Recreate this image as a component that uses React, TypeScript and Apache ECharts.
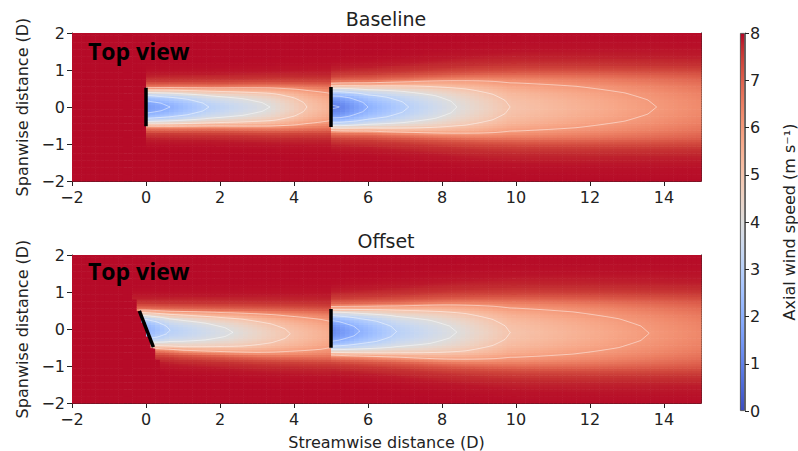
import React, { useEffect, useRef } from 'react';
import * as echarts from 'echarts';

// ---------------- data ----------------
const FREE_STREAM = 7.95; // m/s, undisturbed inflow

// centre-line axial speed of the wake (m/s) at streamwise stations (D)
const baselineCenterX = [0, 0.65, 1.7, 3.35, 4.35, 5, 5, 5.24, 6.0, 7.1, 8.4, 9.84, 13.8, 15];
const baselineCenterSpeed = [1.5, 2, 3, 4, 5, 5.5, 0.9, 1, 2, 3, 4, 5, 6, 6.3];
const offsetCenterX = [0, 0.65, 2.35, 3.9, 5, 5, 5.78, 6.77, 8.4, 9.84, 13.6, 15];
const offsetCenterSpeed = [2.0, 3, 4, 5, 5.6, 1.1, 2, 3, 4, 5, 6, 6.35];

// wake half-width (D) and lateral centre shift (D) at streamwise stations
const widthX = [0, 1, 2, 3, 4, 5, 5, 6, 7, 8, 9, 10, 12, 15];
const baselineWidth = [0.5, 0.52, 0.54, 0.57, 0.6, 0.63, 0.6, 0.64, 0.7, 0.77, 0.84, 0.9, 0.94, 0.98];
const baselineShift = [0, 0, 0, 0, 0, 0, 0, 0, 0, 0, 0, 0, 0, 0];
const offsetWidth = [0.5, 0.55, 0.58, 0.62, 0.65, 0.68, 0.62, 0.67, 0.73, 0.8, 0.86, 0.92, 0.96, 1.0];
const offsetShift = [0, -0.05, -0.08, -0.11, -0.13, -0.15, -0.05, -0.06, -0.07, -0.08, -0.09, -0.1, -0.11, -0.12];

// lateral wake shape: fraction of centre-line deficit vs distance / half-width
const profileR = [0, 0.2, 0.4, 0.6, 0.8, 0.9, 1.0, 1.1, 1.2, 1.4, 1.7, 2.0, 2.3];
const profileDeficit = [1, 0.97, 0.9, 0.78, 0.6, 0.48, 0.35, 0.24, 0.16, 0.07, 0.02, 0.005, 0];

// slope of the yawed rotor plane (x = slant * y)
const baselineSlant = 0;
const offsetSlant = -0.38;

const contourLevels = [1, 2, 3, 4, 5, 6];

// rotor discs, [[x1,y1],[x2,y2]] in D
const baselineTurbines = [[[0, -0.52], [0, 0.52]], [[5, -0.54], [5, 0.54]]];
const offsetTurbines = [[[-0.18, 0.49], [0.2, -0.49]], [[5, -0.51], [5, 0.54]]];

const colorbarTicks = [0, 1, 2, 3, 4, 5, 6, 7, 8];

const COOLWARM = [
  '#3b4cc0', '#445acc', '#4d68d7', '#5775e1', '#6282ea', '#6c8ef1', '#779af7', '#82a5fb',
  '#8db0fe', '#98b9ff', '#a3c2ff', '#aec9fd', '#b8d0f9', '#c2d5f4', '#ccd9ee', '#d5dbe6',
  '#dddddd', '#e5d8d1', '#ecd3c5', '#f1ccb9', '#f5c4ad', '#f7bba0', '#f7b194', '#f7a687',
  '#f49a7b', '#f18d6f', '#ec7f63', '#e57058', '#de604d', '#d55042', '#cb3e38', '#c0282f',
  '#b40426',
];

// ---------------- helpers ----------------
const X_MIN = -2, X_MAX = 15, Y_MIN = -2, Y_MAX = 2;
const DX = 0.125, DY = 0.0625;

function interp(xs: number[], vs: number[], x: number) {
  if (x <= xs[0]) return vs[0];
  if (x >= xs[xs.length - 1]) return vs[vs.length - 1];
  for (let i = xs.length - 2; i >= 0; i--) {
    if (x >= xs[i]) {
      const x0 = xs[i], x1 = xs[i + 1];
      if (x1 === x0) return vs[i + 1];
      return vs[i] + ((x - x0) / (x1 - x0)) * (vs[i + 1] - vs[i]);
    }
  }
  return vs[0];
}

function invProfile(q: number) {
  if (q >= 1) return 0;
  for (let i = 0; i < profileR.length - 1; i++) {
    const a = profileDeficit[i], b = profileDeficit[i + 1];
    if (q <= a && q >= b) {
      const t = a === b ? 0 : (a - q) / (a - b);
      return profileR[i] + t * (profileR[i + 1] - profileR[i]);
    }
  }
  return profileR[profileR.length - 1];
}

type Panel = { cx: number[]; cv: number[]; w: number[]; s: number[]; slant: number };

const baselinePanel: Panel = { cx: baselineCenterX, cv: baselineCenterSpeed, w: baselineWidth, s: baselineShift, slant: baselineSlant };
const offsetPanel: Panel = { cx: offsetCenterX, cv: offsetCenterSpeed, w: offsetWidth, s: offsetShift, slant: offsetSlant };

function params(p: Panel, x: number) {
  return { c: interp(p.cx, p.cv, x), w: interp(widthX, p.w, x), s: interp(widthX, p.s, x) };
}

function speedAt(p: Panel, x: number, y: number) {
  const x0 = p.slant * y;
  if (x < x0 || x < Math.min(0, x0)) return FREE_STREAM;
  const xe = Math.max(x, 0);
  const { c, w, s } = params(p, xe);
  const r = Math.abs(y - s) / w;
  const f = interp(profileR, profileDeficit, r);
  return FREE_STREAM - (FREE_STREAM - c) * f;
}

function buildCells(p: Panel) {
  const out: number[][] = [];
  const nx = Math.round((X_MAX - X_MIN) / DX);
  const ny = Math.round((Y_MAX - Y_MIN) / DY);
  for (let i = 0; i < nx; i++) {
    const x = X_MIN + i * DX;
    for (let j = 0; j < ny; j++) {
      const y = Y_MIN + j * DY;
      out.push([x, y, speedAt(p, x + DX / 2, y + DY / 2)]);
    }
  }
  return out;
}

function contourLines(p: Panel, level: number) {
  const lines: number[][][] = [];
  const segs = [[0, 5 - 1e-6], [5, 15]];
  const STEP = 0.025;
  for (const [a, b] of segs) {
    let upper: number[][] = [];
    let lower: number[][] = [];
    const n = Math.round((b - a) / STEP);
    for (let k = 0; k <= n; k++) {
      const x = Math.min(a + k * STEP, b);
      const { c, w, s } = params(p, x);
      if (c < level) {
        const r = invProfile((FREE_STREAM - level) / (FREE_STREAM - c));
        upper.push([x, s + w * r]);
        lower.push([x, s - w * r]);
      } else if (upper.length) {
        const last = upper[upper.length - 1][0];
        const cl = params(p, last).c;
        const xt = last + ((level - cl) / (c - cl)) * (x - last);
        const st = params(p, xt).s;
        lines.push([...upper, [xt, st], ...lower.slice().reverse()]);
        upper = [];
        lower = [];
      }
    }
    if (upper.length) lines.push(upper, lower);
  }
  if (p.slant === 0) return lines;
  // yawed rotor: contours begin on the slanted rotor plane
  return lines.map((line) => {
    const kept = line.filter((pt) => pt[0] >= p.slant * pt[1] - 1e-9);
    const first = kept[0];
    if (first && first[1] > 0 && first[0] <= 0.001) kept.unshift([p.slant * first[1], first[1]]);
    const last = kept[kept.length - 1];
    if (last && last[1] > 0 && last[0] <= 0.001 && kept.length > 1) kept.push([p.slant * last[1], last[1]]);
    return kept;
  }).filter((l) => l.length > 1);
}

const FONT = 'DejaVu Sans';
const INK = '#222';
const fmtMinus = (v: number) => String(v).replace('-', '\u2212');

function buildOption() {
  const axisLine = { show: true, onZero: false, lineStyle: { color: INK, width: 1 } };
  const tickText = { color: INK, fontSize: 16, fontFamily: FONT };

  const xAxes: any[] = [];
  const yAxes: any[] = [];
  [0, 1].forEach((g) => {
    xAxes.push({
      gridIndex: g, type: 'value', min: X_MIN, max: X_MAX, interval: 2, position: 'bottom',
      axisLine, axisTick: { show: true, length: 5, lineStyle: { color: INK } },
      axisLabel: { ...tickText, margin: 8, showMaxLabel: false, formatter: fmtMinus },
      splitLine: { show: false },
      ...(g === 1 ? { name: 'Streamwise distance (D)', nameLocation: 'middle', nameGap: 31, nameTextStyle: { ...tickText } } : {}),
    });
    xAxes.push({
      gridIndex: g, type: 'value', min: X_MIN, max: X_MAX, position: 'top',
      axisLine, axisTick: { show: false }, axisLabel: { show: false }, splitLine: { show: false },
    });
    yAxes.push({
      gridIndex: g, type: 'value', min: Y_MIN, max: Y_MAX, interval: 1, position: 'left',
      axisLine, axisTick: { show: true, length: 5, lineStyle: { color: INK } },
      axisLabel: { ...tickText, margin: 7, formatter: fmtMinus },
      splitLine: { show: false },
      name: 'Spanwise distance (D)', nameLocation: 'middle', nameGap: 40, nameRotate: 90,
      nameTextStyle: { ...tickText },
    });
    yAxes.push({
      gridIndex: g, type: 'value', min: Y_MIN, max: Y_MAX, position: 'right',
      axisLine, axisTick: { show: false }, axisLabel: { show: false }, splitLine: { show: false },
    });
  });
  xAxes.push({ gridIndex: 2, type: 'category', data: ['cb'], show: false });
  yAxes.push({
    gridIndex: 2, type: 'value', min: colorbarTicks[0], max: colorbarTicks[colorbarTicks.length - 1], interval: 1,
    position: 'right', axisLine: { show: true, onZero: false, lineStyle: { color: '#444', width: 0.8 } },
    axisTick: { show: true, length: 4, lineStyle: { color: INK } },
    axisLabel: { ...tickText, margin: 5 }, splitLine: { show: false },
    name: 'Axial wind speed (m s\u207B\u00B9)', nameLocation: 'middle', nameGap: 36, nameRotate: 90,
    nameTextStyle: { ...tickText },
  });

  const cellSeries = (p: Panel, g: number) => ({
    type: 'custom', xAxisIndex: g * 2, yAxisIndex: g * 2, clip: true, silent: true, z: 2,
    encode: { x: 0, y: 1 },
    data: buildCells(p),
    renderItem: (_params: any, api: any) => {
      const x = api.value(0), y = api.value(1);
      const p0 = api.coord([x, y + DY]);
      const p1 = api.coord([x + DX, y]);
      return {
        type: 'rect',
        shape: { x: p0[0], y: p0[1], width: p1[0] - p0[0] + 0.6, height: p1[1] - p0[1] + 0.6 },
        style: { fill: api.visual('color') },
      };
    },
  });

  const series: any[] = [cellSeries(baselinePanel, 0), cellSeries(offsetPanel, 1)];

  [baselinePanel, offsetPanel].forEach((p, g) => {
    contourLevels.forEach((lv) => {
      contourLines(p, lv).forEach((line) => {
        series.push({
          type: 'line', xAxisIndex: g * 2, yAxisIndex: g * 2, data: line, showSymbol: false, symbol: 'none',
          lineStyle: { color: 'rgba(255,255,255,0.5)', width: 1 }, silent: true, z: 3, clip: true,
        });
      });
    });
  });

  [baselineTurbines, offsetTurbines].forEach((ts, g) => {
    ts.forEach((t) => {
      series.push({
        type: 'line', xAxisIndex: g * 2, yAxisIndex: g * 2, data: t, showSymbol: false, symbol: 'none',
        lineStyle: { color: '#000', width: 3.5, cap: 'butt' }, silent: true, z: 5,
      });
    });
  });

  const stops = COOLWARM.map((c, i) => ({ offset: 1 - i / (COOLWARM.length - 1), color: c })).reverse();
  series.push({
    type: 'bar', xAxisIndex: 4, yAxisIndex: 4, data: [colorbarTicks[colorbarTicks.length - 1]], barWidth: '100%', silent: true,
    itemStyle: { color: new echarts.graphic.LinearGradient(0, 0, 0, 1, stops), borderColor: '#444', borderWidth: 0.8 },
  });

  const textStyle = (text: string, size: number, extra: any = {}) => ({
    text, fontSize: size, fontFamily: FONT, fill: INK,
    align: 'center', textAlign: 'center', verticalAlign: 'middle', textVerticalAlign: 'middle', ...extra,
  });

  return {
    animation: false,
    backgroundColor: '#ffffff',
    grid: [
      { left: 72, top: 33, width: 629, height: 148 },
      { left: 72, top: 255, width: 629, height: 148 },
      { left: 740, top: 33, width: 20, height: 378 },
    ],
    xAxis: xAxes,
    yAxis: yAxes,
    visualMap: {
      type: 'continuous', show: false, min: 0, max: 8, dimension: 2, seriesIndex: [0, 1],
      inRange: { color: COOLWARM },
    },
    graphic: [
      { type: 'text', x: 386, y: 18.5, z: 100, style: textStyle('Baseline', 19) },
      { type: 'text', x: 386, y: 240.5, z: 100, style: textStyle('Offset', 19) },
      { type: 'text', x: 88, y: 51, z: 100, style: textStyle('Top view', 23, { fontFamily: 'Open Sans', fontWeight: 'bold', fill: '#000', align: 'left', textAlign: 'left' }) },
      { type: 'text', x: 88, y: 271, z: 100, style: textStyle('Top view', 23, { fontFamily: 'Open Sans', fontWeight: 'bold', fill: '#000', align: 'left', textAlign: 'left' }) },
    ],
    series,
  };
}

export default function App() {
  const ref = useRef<HTMLDivElement>(null);
  useEffect(() => {
    document.body.style.margin = '0';
    const chart = echarts.init(ref.current!, null, { renderer: 'svg' });
    chart.setOption(buildOption() as any);
    return () => chart.dispose();
  }, []);
  return <div ref={ref} style={{ width: 798, height: 451 }} />;
}
